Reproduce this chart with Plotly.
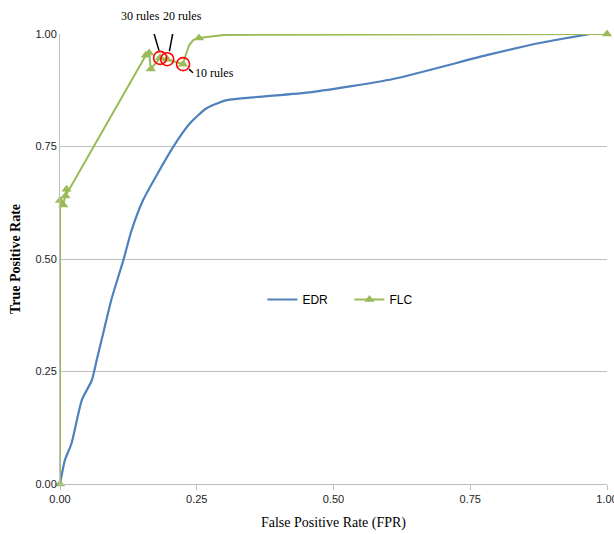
import plotly.graph_objects as go

# EDR ROC curve
edr_fpr = [0.0, 0.009, 0.021, 0.040, 0.058, 0.067, 0.079, 0.094, 0.116, 0.131, 0.152,
           0.207, 0.238, 0.268, 0.305, 0.360, 0.460, 0.609, 0.780, 0.877, 0.969]
edr_tpr = [0.0, 0.053, 0.090, 0.187, 0.230, 0.275, 0.335, 0.410, 0.498, 0.564, 0.631,
           0.749, 0.802, 0.835, 0.853, 0.860, 0.871, 0.900, 0.953, 0.980, 1.0]

# FLC ROC points (marker flag: 1 = triangle drawn, 0 = path point only)
flc_fpr = [0.0, 0.0, 0.006, 0.012, 0.010, 0.157, 0.163, 0.166, 0.183, 0.196, 0.225,
           0.229, 0.236, 0.244, 0.254, 0.30, 0.50, 1.0]
flc_tpr = [0.0, 0.63, 0.62, 0.655, 0.64, 0.953, 0.958, 0.922, 0.947, 0.944, 0.933,
           0.950, 0.975, 0.987, 0.991, 0.998, 0.999, 1.0]
flc_marker = [1, 1, 1, 1, 1, 1, 1, 1, 1, 1, 1,
              0, 0, 0, 1, 0, 0, 1]

# highlighted rule settings
rule_labels = ["30 rules", "20 rules", "10 rules"]
rule_fpr = [0.183, 0.196, 0.225]
rule_tpr = [0.947, 0.944, 0.933]

tick_vals = [0, 0.25, 0.5, 0.75, 1.0]
tick_text = ["0.00", "0.25", "0.50", "0.75", "1.00"]

blue = "#4F81BD"
green = "#9BBB59"

fig = go.Figure()
fig.add_trace(go.Scatter(
    x=edr_fpr, y=edr_tpr, name="EDR", mode="lines",
    line=dict(color=blue, width=2.2, shape="spline", smoothing=0.6),
))
fig.add_trace(go.Scatter(
    x=flc_fpr, y=flc_tpr, name="FLC", mode="lines+markers",
    line=dict(color=green, width=2),
    marker=dict(symbol="triangle-up", size=9,
                color=[green if m else "rgba(0,0,0,0)" for m in flc_marker]),
    cliponaxis=False,
))
fig.add_trace(go.Scatter(
    x=rule_fpr, y=rule_tpr, mode="markers", showlegend=False,
    marker=dict(symbol="circle-open", size=13, color="#FF0000", line=dict(width=1.6)),
    cliponaxis=False,
))

serif = "Liberation Serif, Times New Roman, serif"
narrow = "Liberation Sans Narrow, Liberation Sans, Arial, sans-serif"

annotations = [
    dict(x=0.147, y=1.040, text=rule_labels[0], showarrow=False, yref="paper"),
    dict(x=0.224, y=1.040, text=rule_labels[1], showarrow=False, yref="paper"),
    dict(x=0.244, y=0.913, text=rule_labels[2], showarrow=False, xanchor="left", yref="y"),
]
for a in annotations:
    a.update(xref="x", yanchor="middle", font=dict(family=serif, size=12, color="#000"))

shapes = [
    dict(type="line", x0=0.169, y0=1.013, x1=0.181, y1=0.963),
    dict(type="line", x0=0.208, y0=1.013, x1=0.200, y1=0.962),
    dict(type="line", x0=0.236, y0=0.922, x1=0.243, y1=0.914),
]
for s in shapes:
    s.update(xref="x", yref="y", line=dict(color="#000", width=1.5))

fig.update_layout(
    width=614, height=534,
    margin=dict(l=60, r=7, t=34, b=50),
    paper_bgcolor="white", plot_bgcolor="white",
    showlegend=True,
    legend=dict(orientation="h", x=0.37, y=0.41, xanchor="left", yanchor="middle",
                font=dict(family=narrow, size=12, color="#000"),
                bgcolor="rgba(0,0,0,0)", itemwidth=30, entrywidthmode="pixels", entrywidth=42),
    annotations=annotations,
    shapes=shapes,
    xaxis=dict(range=[0, 1], tickvals=tick_vals, ticktext=tick_text, automargin=False,
               showgrid=False, zeroline=False, showline=True, linecolor="#BFBFBF",
               ticks="outside", ticklen=5, tickcolor="#BFBFBF", ticklabeloverflow="allow",
               tickfont=dict(family=narrow, size=11, color="#222"),
               title=dict(text="False Positive Rate (FPR)", font=dict(family=serif, size=14, color="#000"), standoff=12)),
    yaxis=dict(range=[0, 1], tickvals=tick_vals, ticktext=tick_text, automargin=False,
               showgrid=True, gridcolor="#BFBFBF", gridwidth=1,
               zeroline=False, showline=True, linecolor="#BFBFBF",
               ticks="", tickfont=dict(family=narrow, size=11, color="#222"),
               title=dict(text="<b>True Positive Rate</b>", font=dict(family=serif, size=14, color="#000"), standoff=11)),
)

fig.write_html("out.html", config={"displayModeBar": False},
               post_script="document.body.style.margin='0';")
